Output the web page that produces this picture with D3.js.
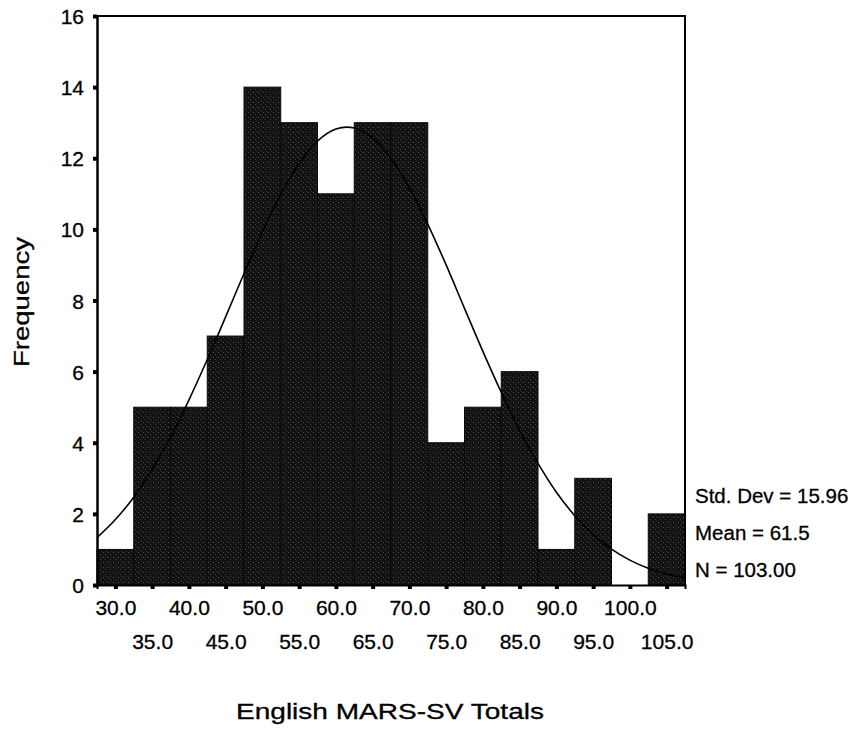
<!DOCTYPE html>
<html>
	<head>
		<meta charset="utf-8">
		<title>English MARS-SV Totals</title>
		<script src="https://d3js.org/d3.v7.min.js"></script>
		<style>
			body { margin: 0; background: white; }
			#plot { width: 858px; height: 730px; }
			text { font-family: "Liberation Sans", Arial, sans-serif; fill: black; stroke: black; stroke-width: 0.3px; }
		</style>
	</head>
	<body>
		<div id='plot'></div>
		<script>
			// bin midpoints and counts
			var binMids = [30, 35, 40, 45, 50, 55, 60, 65, 70, 75, 80, 85, 90, 95, 100, 105]
			var counts = [1, 5, 5, 7, 14, 13, 11, 13, 13, 4, 5, 6, 1, 3, 0, 2]
			var yTicks = [0, 2, 4, 6, 8, 10, 12, 14, 16]
			// normal curve
			var curveX = [27.5, 30, 32.5, 35, 37.5, 40, 42.5, 45, 47.5, 50, 52.5, 55, 57.5, 60, 62.5, 65, 67.5, 70, 72.5, 75, 77.5, 80, 82.5, 85, 87.5, 90, 92.5, 95, 97.5, 100, 102.5, 105, 107.5]
			var curveY = [1.33, 1.84, 2.47, 3.25, 4.16, 5.2, 6.34, 7.54, 8.76, 9.93, 10.98, 11.85, 12.48, 12.82, 12.85, 12.57, 12.0, 11.17, 10.15, 9.0, 7.78, 6.57, 5.42, 4.35, 3.42, 2.61, 1.95, 1.42, 1.01, 0.7, 0.47, 0.31, 0.2]
			var statLines = ['Std. Dev = 15.96', 'Mean = 61.5', 'N = 103.00']
			var binWidth = 5

			var margin = {top:16, left:97, right:173, bottom:145}
			var width = 858 - margin.left - margin.right
			var height = 730 - margin.top - margin.bottom

			var root = d3.select('#plot').append('svg')
							.attr('width', 858)
							.attr('height', 730)

			// dithered dark fill like the scanned bars
			var pat = root.append('defs').append('pattern')
							.attr('id','dots')
							.attr('width', 5).attr('height', 5)
							.attr('patternUnits','userSpaceOnUse')
			pat.append('rect').attr('width',5).attr('height',5).attr('fill','#111')
			pat.append('rect').attr('x',1).attr('y',1).attr('width',1).attr('height',1).attr('fill','#555')
			pat.append('rect').attr('x',3).attr('y',3).attr('width',1).attr('height',1).attr('fill','#444')
			pat.append('rect').attr('x',4).attr('y',0).attr('width',1).attr('height',1).attr('fill','#333')

			var svg = root.append('g')
							.attr('transform','translate('+margin.left+','+margin.top+')')

			var xScale = d3.scaleLinear()
							.domain([27.5, 107.5])
							.range([0, width])
			var yScale = d3.scaleLinear()
							.domain([0, 16])
							.range([height, 0])

			// bars
			svg.selectAll('rect.bar')
				.data(binMids)
				.enter()
				.append('rect')
					.attr('class','bar')
					.attr('x', function(d){return xScale(d - binWidth/2)})
					.attr('width', function(d){return xScale(d + binWidth/2) - xScale(d - binWidth/2)})
					.attr('y', function(d, i){return yScale(counts[i])})
					.attr('height', function(d, i){return height - yScale(counts[i])})
					.attr('fill', 'url(#dots)')
					.attr('stroke', '#0a0a0a')
					.attr('stroke-width', 1)

			// normal curve
			var line = d3.line()
							.x(function(d, i){return xScale(curveX[i])})
							.y(function(d){return yScale(d)})
							.curve(d3.curveCardinal)
			svg.append('path')
				.attr('d', line(curveY))
				.attr('fill','none')
				.attr('stroke','black')
				.attr('stroke-width', 1.6)

			// frame top and right
			svg.append('path')
				.attr('d', 'M0,0H' + width + 'V' + height)
				.attr('fill','none')
				.attr('stroke','black')
				.attr('stroke-width', 2)

			// y axis
			var yAxis = svg.append('g')
					.attr('class','yaxis')
					.call(d3.axisLeft(yScale).tickValues(yTicks).tickSize(4).tickPadding(9).tickFormat(d3.format('d')))
			yAxis.select('.domain').attr('stroke-width', 2.5)
			yAxis.selectAll('.tick line').attr('stroke-width', 4)
			yAxis.selectAll('text').style('font-size','21px').attr('dy','0.36em')

			// x axis, labels staggered in two rows
			var xAxis = svg.append('g')
					.attr('class','xaxis')
					.attr('transform','translate(0,'+height+')')
					.call(d3.axisBottom(xScale).tickValues(binMids).tickSize(4).tickPadding(0).tickFormat(d3.format('.1f')))
			xAxis.select('.domain').attr('stroke-width', 2)
			xAxis.selectAll('.tick line').attr('stroke-width', 4)
			xAxis.selectAll('text')
				.style('font-size','21px')
				.attr('dy', null)
				.attr('y', function(d, i){return i % 2 == 0 ? 30 : 64})

			// stats
			svg.selectAll('text.stat')
				.data(statLines)
				.enter()
				.append('text')
					.attr('class','stat')
					.attr('x', width + 10)
					.attr('y', function(d, i){return 487 + i*37})
					.style('font-size','20.5px')
					.text(function(d){return d})

			// titles
			root.append('text')
				.attr('transform','translate(29,302) rotate(-90)')
				.attr('text-anchor','middle')
				.attr('textLength', 130)
				.attr('lengthAdjust','spacingAndGlyphs')
				.style('font-size','22px')
				.text('Frequency')
			root.append('text')
				.attr('x', 390)
				.attr('y', 719)
				.attr('text-anchor','middle')
				.attr('textLength', 308)
				.attr('lengthAdjust','spacingAndGlyphs')
				.style('font-size','22px')
				.text('English MARS-SV Totals')
		</script>
	</body>
</html>
